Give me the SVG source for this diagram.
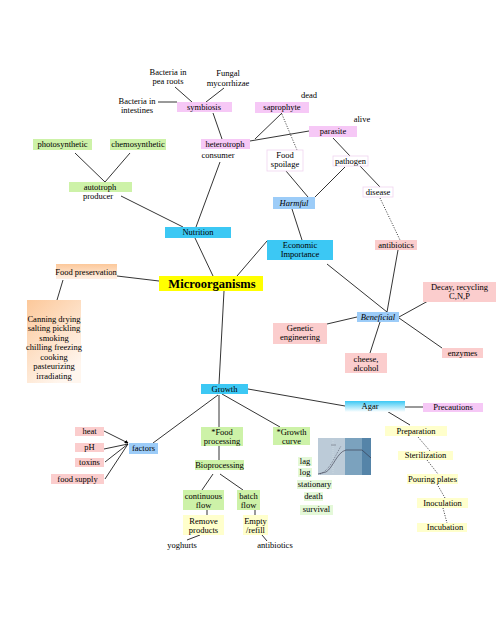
<svg xmlns="http://www.w3.org/2000/svg" width="504" height="618" viewBox="0 0 504 618">
<defs>
<style>
text{font-family:"Liberation Serif","Times New Roman",serif;font-size:8.5px;fill:#000;text-anchor:middle}
.it{font-style:italic}
.big{font-size:12.5px;font-weight:bold}
.c line,.c polyline,.c path{stroke:#000;stroke-width:0.8;fill:none}
.c .dot{stroke-dasharray:1,1.5}
.vio{fill:#f6c8f6}
.wp{fill:#fff;stroke:#f0d4f0;stroke-width:0.8}
.sal{fill:#fbcdcd}
.grn{fill:#cdf2a8}
.lgr{fill:#e4f8d8}
.blu{fill:#3cc8f4}
.lbl{fill:#9cccf8}
.yel{fill:#ffffcc}
.ye{fill:#ffff00}
</style>
<linearGradient id="peach" x1="0" y1="0" x2="0.6" y2="1">
<stop offset="0" stop-color="#fcc89a"/>
<stop offset="1" stop-color="#fff6ee"/>
</linearGradient>
<linearGradient id="peach2" x1="0" y1="0" x2="0" y2="1">
<stop offset="0" stop-color="#fcc89a"/>
<stop offset="1" stop-color="#fff0e4"/>
</linearGradient>
<linearGradient id="agar" x1="0" y1="0" x2="0" y2="1">
<stop offset="0" stop-color="#3cc8f4"/>
<stop offset="1" stop-color="#ffffff"/>
</linearGradient>
<marker id="ah" viewBox="0 0 6 6" refX="5" refY="3" markerWidth="5" markerHeight="5" orient="auto">
<path d="M0,0 L6,3 L0,6 z" fill="#000"/>
</marker>
</defs>
<rect width="504" height="618" fill="#fff"/>

<g id="connectors" class="c">
<line x1="175" y1="87" x2="192" y2="102"/>
<line x1="224" y1="88" x2="206" y2="102"/>
<line x1="158" y1="102" x2="177" y2="102"/>
<line x1="213" y1="113" x2="222" y2="139"/>
<line x1="75" y1="153" x2="105" y2="182"/>
<line x1="130" y1="153" x2="105" y2="182"/>
<line x1="121" y1="196" x2="183" y2="227"/>
<line x1="220" y1="162" x2="196" y2="227"/>
<line x1="282" y1="113" x2="255" y2="139"/>
<line x1="309" y1="131" x2="250" y2="141"/>
<line class="dot" x1="281" y1="112" x2="297" y2="150"/>
<line x1="333" y1="138" x2="350" y2="156"/>
<line x1="360" y1="166" x2="380" y2="187"/>
<line x1="286" y1="171" x2="308" y2="197"/>
<line x1="345" y1="167" x2="315" y2="197"/>
<line x1="292" y1="209" x2="302" y2="240"/>
<line class="dot" x1="380" y1="198" x2="400" y2="240"/>
<line x1="195" y1="238" x2="213" y2="276"/>
<line x1="237" y1="276" x2="267" y2="241"/>
<line x1="117" y1="276" x2="159" y2="281"/>
<line x1="63" y1="280" x2="57" y2="300"/>
<line x1="327" y1="264" x2="387" y2="312"/>
<line x1="398" y1="250" x2="387" y2="312"/>
<line x1="399" y1="317" x2="428" y2="301"/>
<line x1="357" y1="317" x2="327" y2="324"/>
<line x1="380" y1="322" x2="370" y2="353"/>
<line x1="399" y1="318" x2="442" y2="348"/>
<line x1="224" y1="291" x2="219" y2="384"/>
<line x1="218" y1="395" x2="153" y2="443"/>
<line x1="219" y1="395" x2="219" y2="427"/>
<line x1="222" y1="394" x2="280" y2="427"/>
<line x1="248" y1="389" x2="345" y2="406"/>
<line x1="104" y1="431" x2="128" y2="443" marker-end="url(#ah)"/>
<line x1="104" y1="449" x2="128" y2="444"/>
<line x1="105" y1="462" x2="128" y2="444"/>
<line x1="105" y1="479" x2="128" y2="444"/>
<line x1="219" y1="446" x2="219" y2="460"/>
<line x1="213" y1="474" x2="202" y2="490"/>
<line x1="220" y1="474" x2="243" y2="490"/>
<line x1="207" y1="510" x2="207" y2="515"/>
<line x1="255" y1="510" x2="255" y2="515"/>
<line x1="200" y1="535" x2="187" y2="540"/>
<line x1="262" y1="535" x2="267" y2="541"/>
<line x1="405" y1="407" x2="423" y2="407"/>
<line x1="380" y1="407" x2="410" y2="425"/>
<line class="dot" x1="418" y1="437" x2="430" y2="451"/>
<line class="dot" x1="427" y1="460" x2="438" y2="474"/>
<line class="dot" x1="437" y1="484" x2="445" y2="498"/>
<line class="dot" x1="443" y1="508" x2="447" y2="523"/>
</g>

<g id="bacteria-pea"><text x="168" y="75">Bacteria in</text><text x="168" y="84">pea roots</text></g>
<g id="fungal"><text x="228" y="76">Fungal</text><text x="228" y="86">mycorrhizae</text></g>
<g id="bacteria-int"><text x="137" y="104">Bacteria in</text><text x="137" y="113">intestines</text></g>
<g id="symbiosis"><rect class="vio" x="177" y="102" width="55" height="10"/><text x="204" y="110">symbiosis</text></g>
<g id="heterotroph"><rect class="vio" x="201" y="139" width="49" height="10"/><text x="225" y="147">heterotroph</text><text x="218" y="158">consumer</text></g>
<g id="saprophyte"><rect class="vio" x="255" y="102" width="54" height="11"/><text x="282" y="110">saprophyte</text></g>
<g id="dead"><text x="309" y="98">dead</text></g>
<g id="parasite"><rect class="vio" x="309" y="126" width="48" height="11"/><text x="333" y="134">parasite</text></g>
<g id="alive"><text x="362" y="122">alive</text></g>
<g id="food-spoilage"><rect class="wp" x="267" y="150" width="36" height="21"/><text x="285" y="158">Food</text><text x="285" y="167">spoilage</text></g>
<g id="pathogen"><rect class="wp" x="333" y="156" width="35" height="10"/><text x="350.5" y="164">pathogen</text></g>
<g id="disease"><rect class="wp" x="363" y="187" width="30" height="10"/><text x="378" y="195">disease</text></g>
<g id="harmful"><rect class="lbl" x="273" y="197" width="42" height="12"/><text class="it" x="294" y="206">Harmful</text></g>
<g id="photosynthetic"><rect class="grn" x="33" y="139" width="59" height="11"/><text x="62.5" y="147">photosynthetic</text></g>
<g id="chemosynthetic"><rect class="grn" x="110" y="139" width="56" height="11"/><text x="138" y="147">chemosynthetic</text></g>
<g id="autotroph"><rect class="grn" x="69" y="182" width="63" height="10"/><text x="100" y="190">autotroph</text><text x="98" y="199">producer</text></g>
<g id="nutrition"><rect class="blu" x="165" y="227" width="66" height="11"/><text x="198" y="235">Nutrition</text></g>
<g id="economic"><rect class="blu" x="267" y="240" width="66" height="20"/><text x="300" y="248">Economic</text><text x="300" y="257">Importance</text></g>
<g id="microorganisms"><rect class="ye" x="159" y="276" width="104" height="15"/><text class="big" x="212" y="288">Microorganisms</text></g>
<g id="food-preservation"><rect fill="url(#peach2)" x="56" y="264" width="61" height="15"/><text x="86" y="275">Food preservation</text></g>
<g id="methods"><rect fill="url(#peach)" x="27" y="300" width="54" height="83"/>
<text x="54" y="322">Canning drying</text><text x="54" y="331">salting pickling</text><text x="54" y="341">smoking</text><text x="54" y="350">chilling freezing</text><text x="54" y="360">cooking</text><text x="54" y="369">pasteurizing</text><text x="54" y="379">irradiating</text></g>
<g id="antibiotics"><rect class="sal" x="375" y="240" width="42" height="10"/><text x="396" y="248">antibiotics</text></g>
<g id="beneficial"><rect class="lbl" x="357" y="312" width="42" height="10"/><text class="it" x="378" y="320">Beneficial</text></g>
<g id="decay"><rect class="sal" x="423" y="282" width="73" height="20"/><text x="459.5" y="290">Decay, recycling</text><text x="459.5" y="299">C,N,P</text></g>
<g id="genetic"><rect class="sal" x="273" y="323" width="54" height="21"/><text x="300" y="331">Genetic</text><text x="300" y="340">engineering</text></g>
<g id="cheese"><rect class="sal" x="345" y="353" width="42" height="20"/><text x="366" y="362">cheese,</text><text x="366" y="371">alcohol</text></g>
<g id="enzymes"><rect class="sal" x="442" y="348" width="41" height="10"/><text x="462.5" y="356">enzymes</text></g>
<g id="growth"><rect class="blu" x="201" y="384" width="47" height="10"/><text x="224.5" y="392">Growth</text></g>
<g id="factors"><rect class="lbl" x="129" y="443" width="29" height="11"/><text x="143.5" y="451">factors</text></g>
<g id="heat"><rect class="sal" x="75" y="427" width="29" height="9"/><text x="89.5" y="434">heat</text></g>
<g id="ph"><rect class="sal" x="75" y="443" width="29" height="9"/><text x="89.5" y="450">pH</text></g>
<g id="toxins"><rect class="sal" x="75" y="458" width="29" height="9"/><text x="89.5" y="465">toxins</text></g>
<g id="food-supply"><rect class="sal" x="51" y="474" width="53" height="10"/><text x="77.5" y="482">food supply</text></g>
<g id="food-processing"><rect class="grn" x="201" y="427" width="42" height="19"/><text x="222" y="435">*Food</text><text x="222" y="444">processing</text></g>
<g id="bioprocessing"><rect class="grn" x="195" y="460" width="49" height="10"/><text x="219.5" y="468">Bioprocessing</text></g>
<g id="continuous"><rect class="grn" x="183" y="490" width="41" height="20"/><text x="203.5" y="499">continuous</text><text x="203.5" y="508">flow</text></g>
<g id="batch"><rect class="grn" x="237" y="490" width="23" height="20"/><text x="248.5" y="499">batch</text><text x="248.5" y="508">flow</text></g>
<g id="remove"><rect class="yel" x="183" y="515" width="41" height="20"/><text x="203.5" y="524">Remove</text><text x="203.5" y="533">products</text></g>
<g id="empty"><rect class="yel" x="243" y="515" width="25" height="20"/><text x="255.5" y="524">Empty</text><text x="255.5" y="533">/refill</text></g>
<g id="yoghurts"><text x="182" y="548">yoghurts</text></g>
<g id="antibiotics2"><text x="275" y="548">antibiotics</text></g>
<g id="growth-curve"><rect class="grn" x="273" y="427" width="37" height="18"/><text x="291.5" y="435">*Growth</text><text x="291.5" y="444">curve</text></g>
<g id="chart">
<rect x="318" y="438" width="27" height="37" fill="#bccbd8"/>
<rect x="345" y="438" width="17" height="37" fill="#7ba2be"/>
<rect x="362" y="438" width="9" height="37" fill="#5584a8"/>
<line x1="333" y1="440" x2="333" y2="474" stroke="#e0e8ee" stroke-width="0.4" stroke-dasharray="1,1"/>
<line x1="331" y1="445" x2="336" y2="445" stroke="#556" stroke-width="0.5"/>
<path d="M318,474 L326,472 C333,468 337,452 346,450 L362,450 L371,458" fill="none" stroke="#334" stroke-width="0.6"/>
<path d="M320,474 C330,470 334,458 341,446" fill="none" stroke="#334" stroke-width="0.5" stroke-dasharray="1,1"/>
</g>
<g id="lag"><rect class="lgr" x="298" y="457" width="14" height="9"/><text x="305" y="464">lag</text></g>
<g id="log"><rect class="lgr" x="298" y="468" width="14" height="9"/><text x="305" y="475">log</text></g>
<g id="stationary"><rect class="lgr" x="297" y="480" width="35" height="9"/><text x="314.5" y="487">stationary</text></g>
<g id="death"><rect class="lgr" x="304" y="492" width="19" height="9"/><text x="313.5" y="499">death</text></g>
<g id="survival"><rect class="lgr" x="300" y="505" width="33" height="10"/><text x="316.5" y="512">survival</text></g>
<g id="agar"><rect fill="url(#agar)" x="345" y="401" width="60" height="11"/><text x="370" y="409">Agar</text></g>
<g id="precautions"><rect class="vio" x="423" y="403" width="60" height="9"/><text x="453" y="410">Precautions</text></g>
<g id="preparation"><rect class="yel" x="385" y="426" width="62" height="10"/><text x="416" y="434">Preparation</text></g>
<g id="sterilization"><rect class="yel" x="398" y="451" width="55" height="9"/><text x="425.5" y="458">Sterilization</text></g>
<g id="pouring"><rect class="yel" x="407" y="474" width="51" height="10"/><text x="432.5" y="482">Pouring plates</text></g>
<g id="inoculation"><rect class="yel" x="417" y="498" width="51" height="10"/><text x="442.5" y="506">Inoculation</text></g>
<g id="incubation"><rect class="yel" x="417" y="523" width="50" height="9"/><text x="445" y="530">Incubation</text></g>
</svg>
